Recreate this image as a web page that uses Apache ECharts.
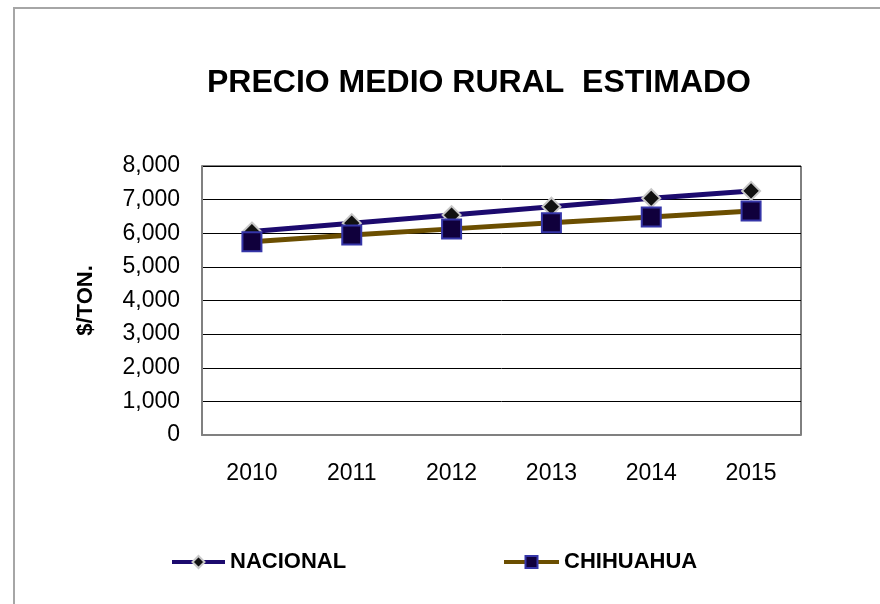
<!DOCTYPE html>
<html>
<head>
<meta charset="utf-8">
<script src="https://cdn.jsdelivr.net/npm/echarts@6/dist/echarts.min.js"></script>
<style>
  html, body { margin: 0; padding: 0; background: #fff; }
  #chart { width: 880px; height: 604px; }
</style>
</head>
<body>
<div id="chart"></div>
<script>
// datos
var years = ['2010', '2011', '2012', '2013', '2014', '2015'];
var nacional = [6050, 6300, 6540, 6790, 7040, 7260];
var chihuahua = [5750, 5950, 6130, 6310, 6480, 6660];
var yTicks = [0, 1000, 2000, 3000, 4000, 5000, 6000, 7000, 8000];

var font = 'Arial, "Liberation Sans", sans-serif';

var myChart = echarts.init(document.getElementById('chart'));
var option = {
  animation: false,
  title: {
    text: 'PRECIO MEDIO RURAL  ESTIMADO',
    left: 474,
    textAlign: 'center',
    top: 62,
    textStyle: { fontFamily: font, fontSize: 32, fontWeight: 'bold', color: '#000' }
  },
  graphic: [{
    type: 'rect',
    shape: { x: 14, y: 8, width: 900, height: 700 },
    style: { fill: 'none', stroke: '#a6a6a6', lineWidth: 2 },
    silent: true
  }],
  legend: [{
    data: ['NACIONAL'],
    left: 165,
    top: 546,
    itemWidth: 53,
    itemHeight: 15,
    itemGap: 0,
    lineStyle: { width: 4 },
    textStyle: { fontFamily: font, fontSize: 22, fontWeight: 'bold', color: '#000', padding: [0, 0, 0, 0] }
  }, {
    data: ['CHIHUAHUA'],
    left: 497,
    top: 546,
    itemWidth: 55,
    itemHeight: 15,
    itemGap: 0,
    lineStyle: { width: 4 },
    textStyle: { fontFamily: font, fontSize: 22, fontWeight: 'bold', color: '#000', padding: [0, 0, 0, 0] }
  }],
  grid: {
    left: 202,
    right: 79,
    top: 166,
    bottom: 169,
    show: true,
    borderColor: '#000',
    borderWidth: 1
  },
  xAxis: {
    type: 'category',
    data: years,
    boundaryGap: true,
    axisLine: { lineStyle: { color: '#808080', width: 2 } },
    axisTick: { show: false },
    axisLabel: { fontFamily: font, fontSize: 23, color: '#000', margin: 27 }
  },
  yAxis: {
    type: 'value',
    min: yTicks[0],
    max: yTicks[yTicks.length - 1],
    interval: 1000,
    name: '$/TON.',
    nameLocation: 'middle',
    nameGap: 105,
    nameTextStyle: { fontFamily: font, fontSize: 22, fontWeight: 'bold', color: '#000' },
    axisLine: { show: true, lineStyle: { color: '#808080', width: 2 } },
    axisTick: { show: false },
    splitLine: { lineStyle: { color: '#000', width: 1 } },
    axisLabel: {
      fontFamily: font, fontSize: 23, color: '#000', margin: 22,
      formatter: function (v) { return v.toLocaleString('en-US'); }
    }
  },
  series: [{
    name: 'NACIONAL',
    type: 'line',
    data: nacional,
    symbol: 'diamond',
    symbolSize: 18,
    lineStyle: { color: '#1c0a6e', width: 5 },
    itemStyle: { color: '#111111', borderColor: '#c8c8c8', borderWidth: 2 },
    z: 3
  }, {
    name: 'CHIHUAHUA',
    type: 'line',
    data: chihuahua,
    symbol: 'rect',
    symbolSize: 19,
    lineStyle: { color: '#6b4e00', width: 5 },
    itemStyle: { color: '#10003c', borderColor: '#3535a8', borderWidth: 2 },
    z: 4
  }]
};
myChart.setOption(option);
</script>
</body>
</html>
